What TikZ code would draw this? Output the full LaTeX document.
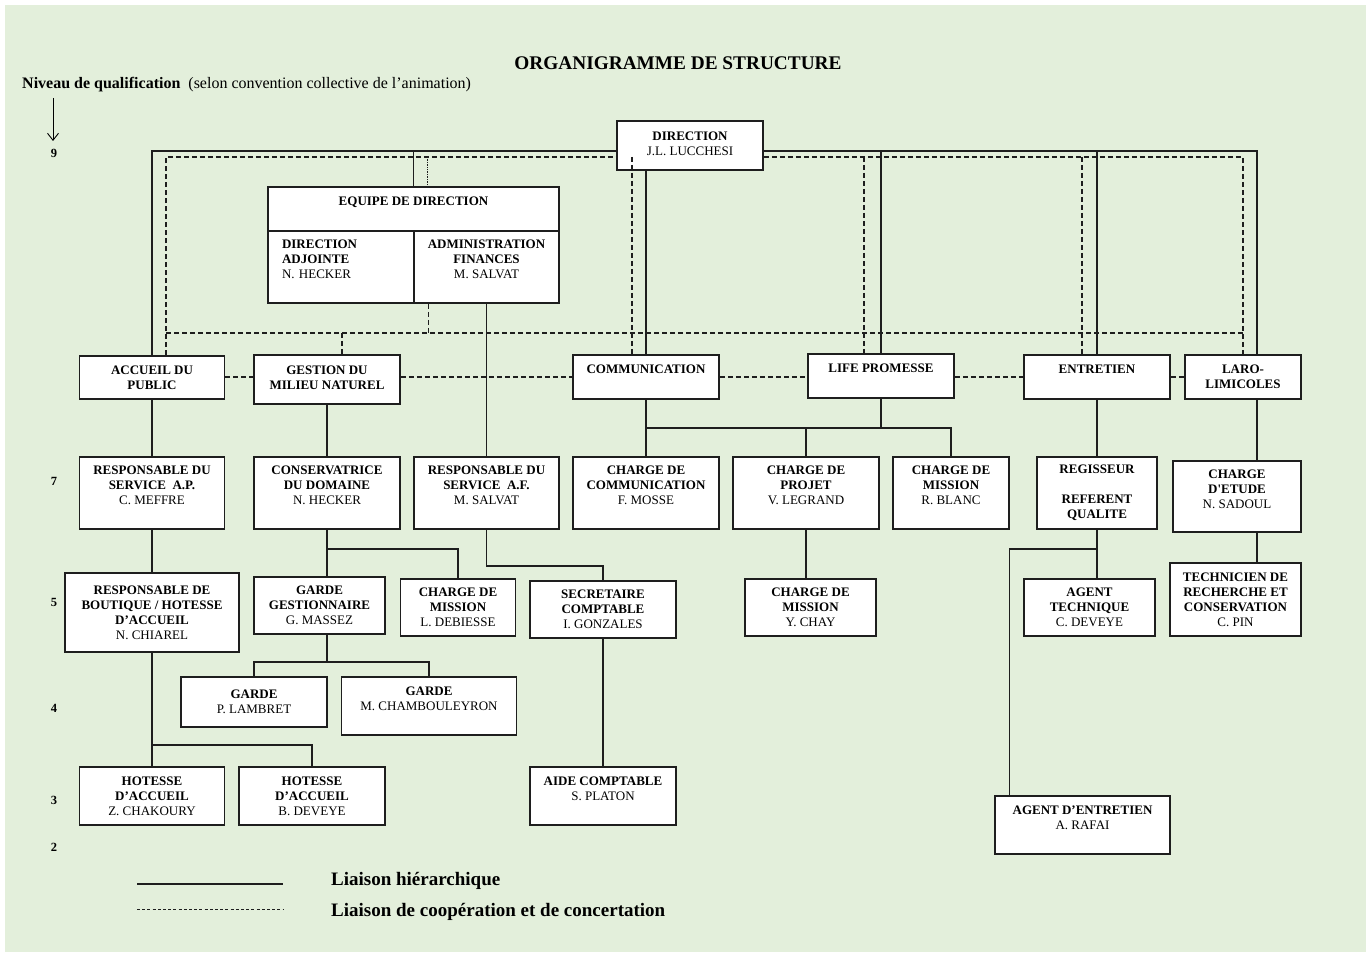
\documentclass[tikz,border=0pt]{standalone}
\usepackage{fontspec}
\setmainfont{Liberation Serif}
\usepackage{xcolor}
\usepackage{tikz}
\usetikzlibrary{arrows.meta}
\usetikzlibrary{positioning}

\definecolor{fondvert}{RGB}{227,239,219}
\definecolor{encre}{RGB}{30,30,30}

\tikzset{
  orgbox/.style={draw=encre, line width=1.6pt, fill=white, inner sep=0pt, align=center,
    font=\fontsize{13}{15}\selectfont\bfseries},
  dim/.style 2 args={minimum width=#1, minimum height=#2},
  hier/.style={draw=encre, line width=1.4pt},
  coop/.style={draw=encre, line width=1.3pt, dash pattern=on 5pt off 3pt},
  niveau/.style={font=\fontsize{12.5}{15}\selectfont\bfseries},
}
\newcommand{\persnom}[1]{{\mdseries #1}}

\begin{document}
\begin{tikzpicture}[x=1pt, y=-1pt]
  \fill[white] (0,0) rectangle (1371,957);
  \fill[fondvert] (5,5) rectangle (1366,952);
  \useasboundingbox (0,0) rectangle (1371,957);

  \node[font=\fontsize{19.3}{22}\selectfont\bfseries] (titre) at (678,63) {ORGANIGRAMME DE STRUCTURE};
  \node[anchor=west, inner sep=0pt, font=\fontsize{16}{19}\selectfont] (qualif) at (22,85)
    {\textbf{Niveau de qualification}\ \ (selon convention collective de l’animation)};
  \draw[-{Straight Barb[length=7pt,width=11pt]}, line width=0.9pt] (53,98) -- (53,141);
  \foreach \lv/\y in {9/153,7/481,5/602,4/708,3/800,2/847}
    \node[niveau] (niv\lv) at (54,\y) {\lv};

  % direction
  \node[orgbox, dim={146}{49}] (dir) at (690,145.5) {DIRECTION\\\persnom{J.L. LUCCHESI}\strut};
  \node[orgbox, dim={291}{44}] (eqd) at (413.5,209) {EQUIPE DE DIRECTION\\\mbox{}};
  \node[orgbox, dim={146}{72}, text width=118, align=left] (dadj) at (341,267)
    {DIRECTION\\ADJOINTE\\\persnom{N. HECKER}\\\mbox{}};
  \node[orgbox, dim={145}{72}] (admfin) at (486.5,267)
    {ADMINISTRATION\\FINANCES\\\persnom{M. SALVAT}\\\mbox{}};

  % services
  \node[orgbox, dim={145}{43}] (acc) at (152,377.5) {ACCUEIL DU\\PUBLIC};
  \node[orgbox, dim={146}{49}] (gest) at (327,379.5) {GESTION DU\\MILIEU NATUREL\strut};
  \node[orgbox, dim={146}{44}] (comm) at (646,377) {COMMUNICATION\\\mbox{}};
  \node[orgbox, dim={146}{44}] (life) at (881,376) {LIFE PROMESSE\\\mbox{}};
  \node[orgbox, dim={146}{44}] (entr) at (1097,377) {ENTRETIEN\\\mbox{}};
  \node[orgbox, dim={116}{44}] (laro) at (1243,377) {LARO-\\LIMICOLES};

  % niveau 7
  \node[orgbox, dim={145}{72}] (rap) at (152,493) {RESPONSABLE DU\\SERVICE\ \ A.P.\\\persnom{C. MEFFRE}\\\mbox{}};
  \node[orgbox, dim={146}{72}] (cons) at (327,493) {CONSERVATRICE\\DU DOMAINE\\\persnom{N. HECKER}\\\mbox{}};
  \node[orgbox, dim={145}{72}] (raf) at (486.5,493) {RESPONSABLE DU\\SERVICE\ \ A.F.\\\persnom{M. SALVAT}\\\mbox{}};
  \node[orgbox, dim={146}{72}] (ccom) at (646,493) {CHARGE DE\\COMMUNICATION\\\persnom{F. MOSSE}\\\mbox{}};
  \node[orgbox, dim={146}{72}] (cproj) at (806,493) {CHARGE DE\\PROJET\\\persnom{V. LEGRAND}\\\mbox{}};
  \node[orgbox, dim={116}{72}] (cmis) at (951,493) {CHARGE DE\\MISSION\\\persnom{R. BLANC}\\\mbox{}};
  \node[orgbox, dim={120}{72}] (reg) at (1097,493) {REGISSEUR\\\mbox{}\\REFERENT\\QUALITE};
  \node[orgbox, dim={128}{71}] (etude) at (1237,496.5) {CHARGE\\D\textquotesingle ETUDE\\\persnom{N. SADOUL}\\\mbox{}};

  % niveau 5
  \node[orgbox, dim={174}{79}] (bout) at (152,612.5) {RESPONSABLE DE\\BOUTIQUE / HOTESSE\\D’ACCUEIL\\\persnom{N. CHIAREL}};
  \node[orgbox, dim={131}{57}] (gg) at (319.5,605.5) {GARDE\\GESTIONNAIRE\\\persnom{G. MASSEZ}};
  \node[orgbox, dim={115}{57}] (cmisd) at (458,607.5) {CHARGE DE\\MISSION\\\persnom{L. DEBIESSE}};
  \node[orgbox, dim={146}{57}] (sec) at (603,609.5) {SECRETAIRE\\COMPTABLE\\\persnom{I. GONZALES}};
  \node[orgbox, dim={131}{57}] (chay) at (810.5,607.5) {CHARGE DE\\MISSION\\\persnom{Y. CHAY}};
  \node[orgbox, dim={131}{57}] (atech) at (1089.5,607.5) {AGENT\\TECHNIQUE\\\persnom{C. DEVEYE}};
  \node[orgbox, dim={131}{73}] (tech) at (1235.5,599.5) {TECHNICIEN DE\\RECHERCHE ET\\CONSERVATION\\\persnom{C. PIN}};

  % niveaux 4 et 3
  \node[orgbox, dim={146}{50}] (lamb) at (254,702) {GARDE\\\persnom{P. LAMBRET}};
  \node[orgbox, dim={175}{58}] (chamb) at (429,706) {GARDE\\\persnom{M. CHAMBOULEYRON}\\\mbox{}};
  \node[orgbox, dim={145}{58}] (chak) at (152,796) {HOTESSE\\D’ACCUEIL\\\persnom{Z. CHAKOURY}};
  \node[orgbox, dim={146}{58}] (bdev) at (312,796) {HOTESSE\\D’ACCUEIL\\\persnom{B. DEVEYE}};
  \node[orgbox, dim={146}{58}] (aide) at (603,796) {AIDE COMPTABLE\\\persnom{S. PLATON}\\\mbox{}};
  \node[orgbox, dim={175}{58}] (rafai) at (1082.5,825) {AGENT D’ENTRETIEN\\\persnom{A. RAFAI}\\\mbox{}};

  \coordinate (bus) at (0,151);
  \coordinate (topd) at (0,157);
  \coordinate (midd) at (0,333);
  \coordinate (rowd) at (0,377);
  \coordinate (lx) at ([xshift=14pt]laro.north);

  % liaisons hierarchiques
  \draw[hier] (acc.north) -- (acc.north |- bus) -- (dir.west |- bus);
  \draw[hier] (dir.east |- bus) -- (lx |- bus) -- (lx);
  \draw[hier] (eqd.north) -- (eqd.north |- bus);
  \draw[hier] (comm.north |- dir.south) -- (comm.north);
  \draw[hier] (life.north |- bus) -- (life.north);
  \draw[hier] (entr.north |- bus) -- (entr.north);

  \draw[hier] (acc.south) -- (rap.north);
  \draw[hier] (gest.south) -- (cons.north);
  \draw[hier] (admfin.south) -- (raf.north);
  \draw[hier] (comm.south) -- (ccom.north);
  \draw[hier] (life.south) -- (life.south |- 0,428);
  \draw[hier] (ccom.north |- 0,428) -| (cmis.north);
  \draw[hier] (cproj.north |- 0,428) -- (cproj.north);
  \draw[hier] (entr.south) -- (reg.north);
  \draw[hier] (lx |- laro.south) -- (lx |- etude.north);

  \draw[hier] (rap.south) -- (bout.north);
  \draw[hier] (cons.south) -- (cons.south |- gg.north);
  \draw[hier] (cons.south |- 0,549) -| (cmisd.north);
  \draw[hier] (raf.south) -- (raf.south |- 0,566) -| (sec.north);
  \draw[hier] (cproj.south) -- (cproj.south |- chay.north);
  \draw[hier] (reg.south) -- (reg.south |- atech.north);
  \draw[hier] (reg.south |- 0,549) -| ([xshift=15pt]rafai.north west);
  \draw[hier] (lx |- etude.south) -- (lx |- tech.north);

  \draw[hier] (cons.south |- gg.south) -- (cons.south |- 0,662);
  \draw[hier] (lamb.north) |- (chamb.north |- 0,662) -- (chamb.north);
  \draw[hier] (bout.south) -- (bout.south |- 0,745) -| (bdev.north);
  \draw[hier] (bout.south |- 0,745) -- (chak.north);
  \draw[hier] (sec.south) -- (aide.north);

  % liaisons de cooperation
  \draw[coop] ([xshift=14pt]acc.north) -- ([xshift=14pt]acc.north |- topd) -- (dir.west |- topd);
  \draw[coop] (dir.east |- topd) -- (laro.north |- topd) -- (laro.north);
  \draw[coop] ([xshift=-14pt]comm.north |- topd) -- ([xshift=-14pt]comm.north);
  \draw[coop] ([xshift=-17pt]life.north |- topd) -- ([xshift=-17pt]life.north);
  \draw[coop] ([xshift=-15pt]entr.north |- topd) -- ([xshift=-15pt]entr.north);
  \draw[coop] ([xshift=14pt]acc.north |- midd) -- (laro.north |- midd);
  \draw[coop] ([xshift=14pt]dadj.south east) -- ([xshift=14pt]dadj.south east |- midd);
  \draw[coop] ([xshift=15pt]gest.north |- midd) -- ([xshift=15pt]gest.north);
  \draw[draw=encre, line width=0.7pt, densely dotted] ([xshift=14pt]eqd.north |- topd) -- ([xshift=14pt]eqd.north);
  \foreach \a/\b in {acc/gest, gest/comm, comm/life, life/entr, entr/laro}
    \draw[coop] (\a.east |- rowd) -- (\b.west |- rowd);

  % legende
  \coordinate (lh) at (137,884);
  \coordinate (lc) at (137,909);
  \draw[hier, line width=1.6pt] (lh) -- ++(146,0);
  \draw[draw=encre, line width=1pt, dash pattern=on 3pt off 2.2pt] (lc) -- ++(146,0);
  \node[anchor=west, inner sep=0pt, font=\fontsize{19}{22}\selectfont\bfseries] (leghier) at (331,881) {Liaison hiérarchique};
  \node[anchor=west, inner sep=0pt, font=\fontsize{19}{22}\selectfont\bfseries] (legcoop) at (331,912) {Liaison de coopération et de concertation};
\end{tikzpicture}
\end{document}
